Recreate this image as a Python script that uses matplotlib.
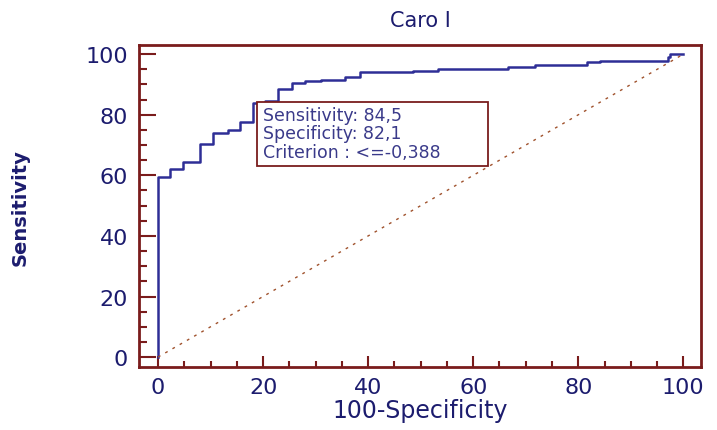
import matplotlib
matplotlib.use('Agg')
import matplotlib.pyplot as plt
from matplotlib.patches import Rectangle
from matplotlib.ticker import MultipleLocator

# ── Data ─────────────────────────────────────────────────────────
fpr = [0, 0, 2.3, 4.8, 8.0, 10.5, 13.3, 15.6, 18.0, 20.4, 22.9, 25.5, 28.0,
       31.0, 35.6, 38.5, 48.6, 53.3, 66.7, 71.8, 81.7, 84.2, 97.0, 97.4, 100]
tpr = [0, 59.4, 62.0, 64.4, 70.3, 74.0, 75.0, 77.5, 84.0, 84.5, 88.4, 90.4,
       91.0, 91.4, 92.4, 94.0, 94.4, 95.0, 95.7, 96.4, 97.4, 97.7, 99.0,
       100, 100]
diag = [0, 100]
box_lines = ["Sensitivity: 84,5", "Specificity: 82,1", "Criterion : <=-0,388"]

frame_col = '#7a1c1c'
text_col = '#1c1c6e'
curve_col = '#2e2e96'

fig = plt.figure(figsize=(7.17, 4.31), dpi=100)
ax = fig.add_axes([0.194, 0.146, 0.784, 0.747])

ax.plot(fpr, tpr, drawstyle='steps-post', color=curve_col, linewidth=1.8)
ax.plot(diag, diag, color='#a0522d', linewidth=1, linestyle=(0, (2, 4)))

ax.set_xlim(-3.6, 103.4)
ax.set_ylim(-3.3, 103)

ax.xaxis.set_major_locator(MultipleLocator(20))
ax.xaxis.set_minor_locator(MultipleLocator(5))
ax.yaxis.set_major_locator(MultipleLocator(20))
ax.yaxis.set_minor_locator(MultipleLocator(5))
ax.tick_params(axis='both', which='both', direction='in', color=frame_col,
               width=1.5, labelcolor=text_col, labelsize=16)
ax.tick_params(axis='y', which='major', length=12, pad=8)
ax.tick_params(axis='y', which='minor', length=6)
ax.tick_params(axis='x', which='major', length=8, pad=7)
ax.tick_params(axis='x', which='minor', length=4)

for s in ax.spines.values():
    s.set_color(frame_col)
    s.set_linewidth(2)

ax.set_xlabel('100-Specificity', fontsize=17, color=text_col, labelpad=1)
ax.set_ylabel('Sensitivity', fontsize=14, color=text_col, labelpad=40,
              fontweight='bold')
ax.set_title('Caro I', fontsize=15, color=text_col, pad=14)

# annotation box
ax.add_patch(Rectangle((18.9, 63.0), 44.0, 21.2, facecolor='white',
                       edgecolor=frame_col, linewidth=1.3, zorder=3))
ax.text(19.9, 83.0, "\n".join(box_lines), fontsize=12.5, color='#3a3a8a',
        va='top', ha='left', linespacing=1.05, zorder=4)

plt.savefig('out.png', dpi=100)
